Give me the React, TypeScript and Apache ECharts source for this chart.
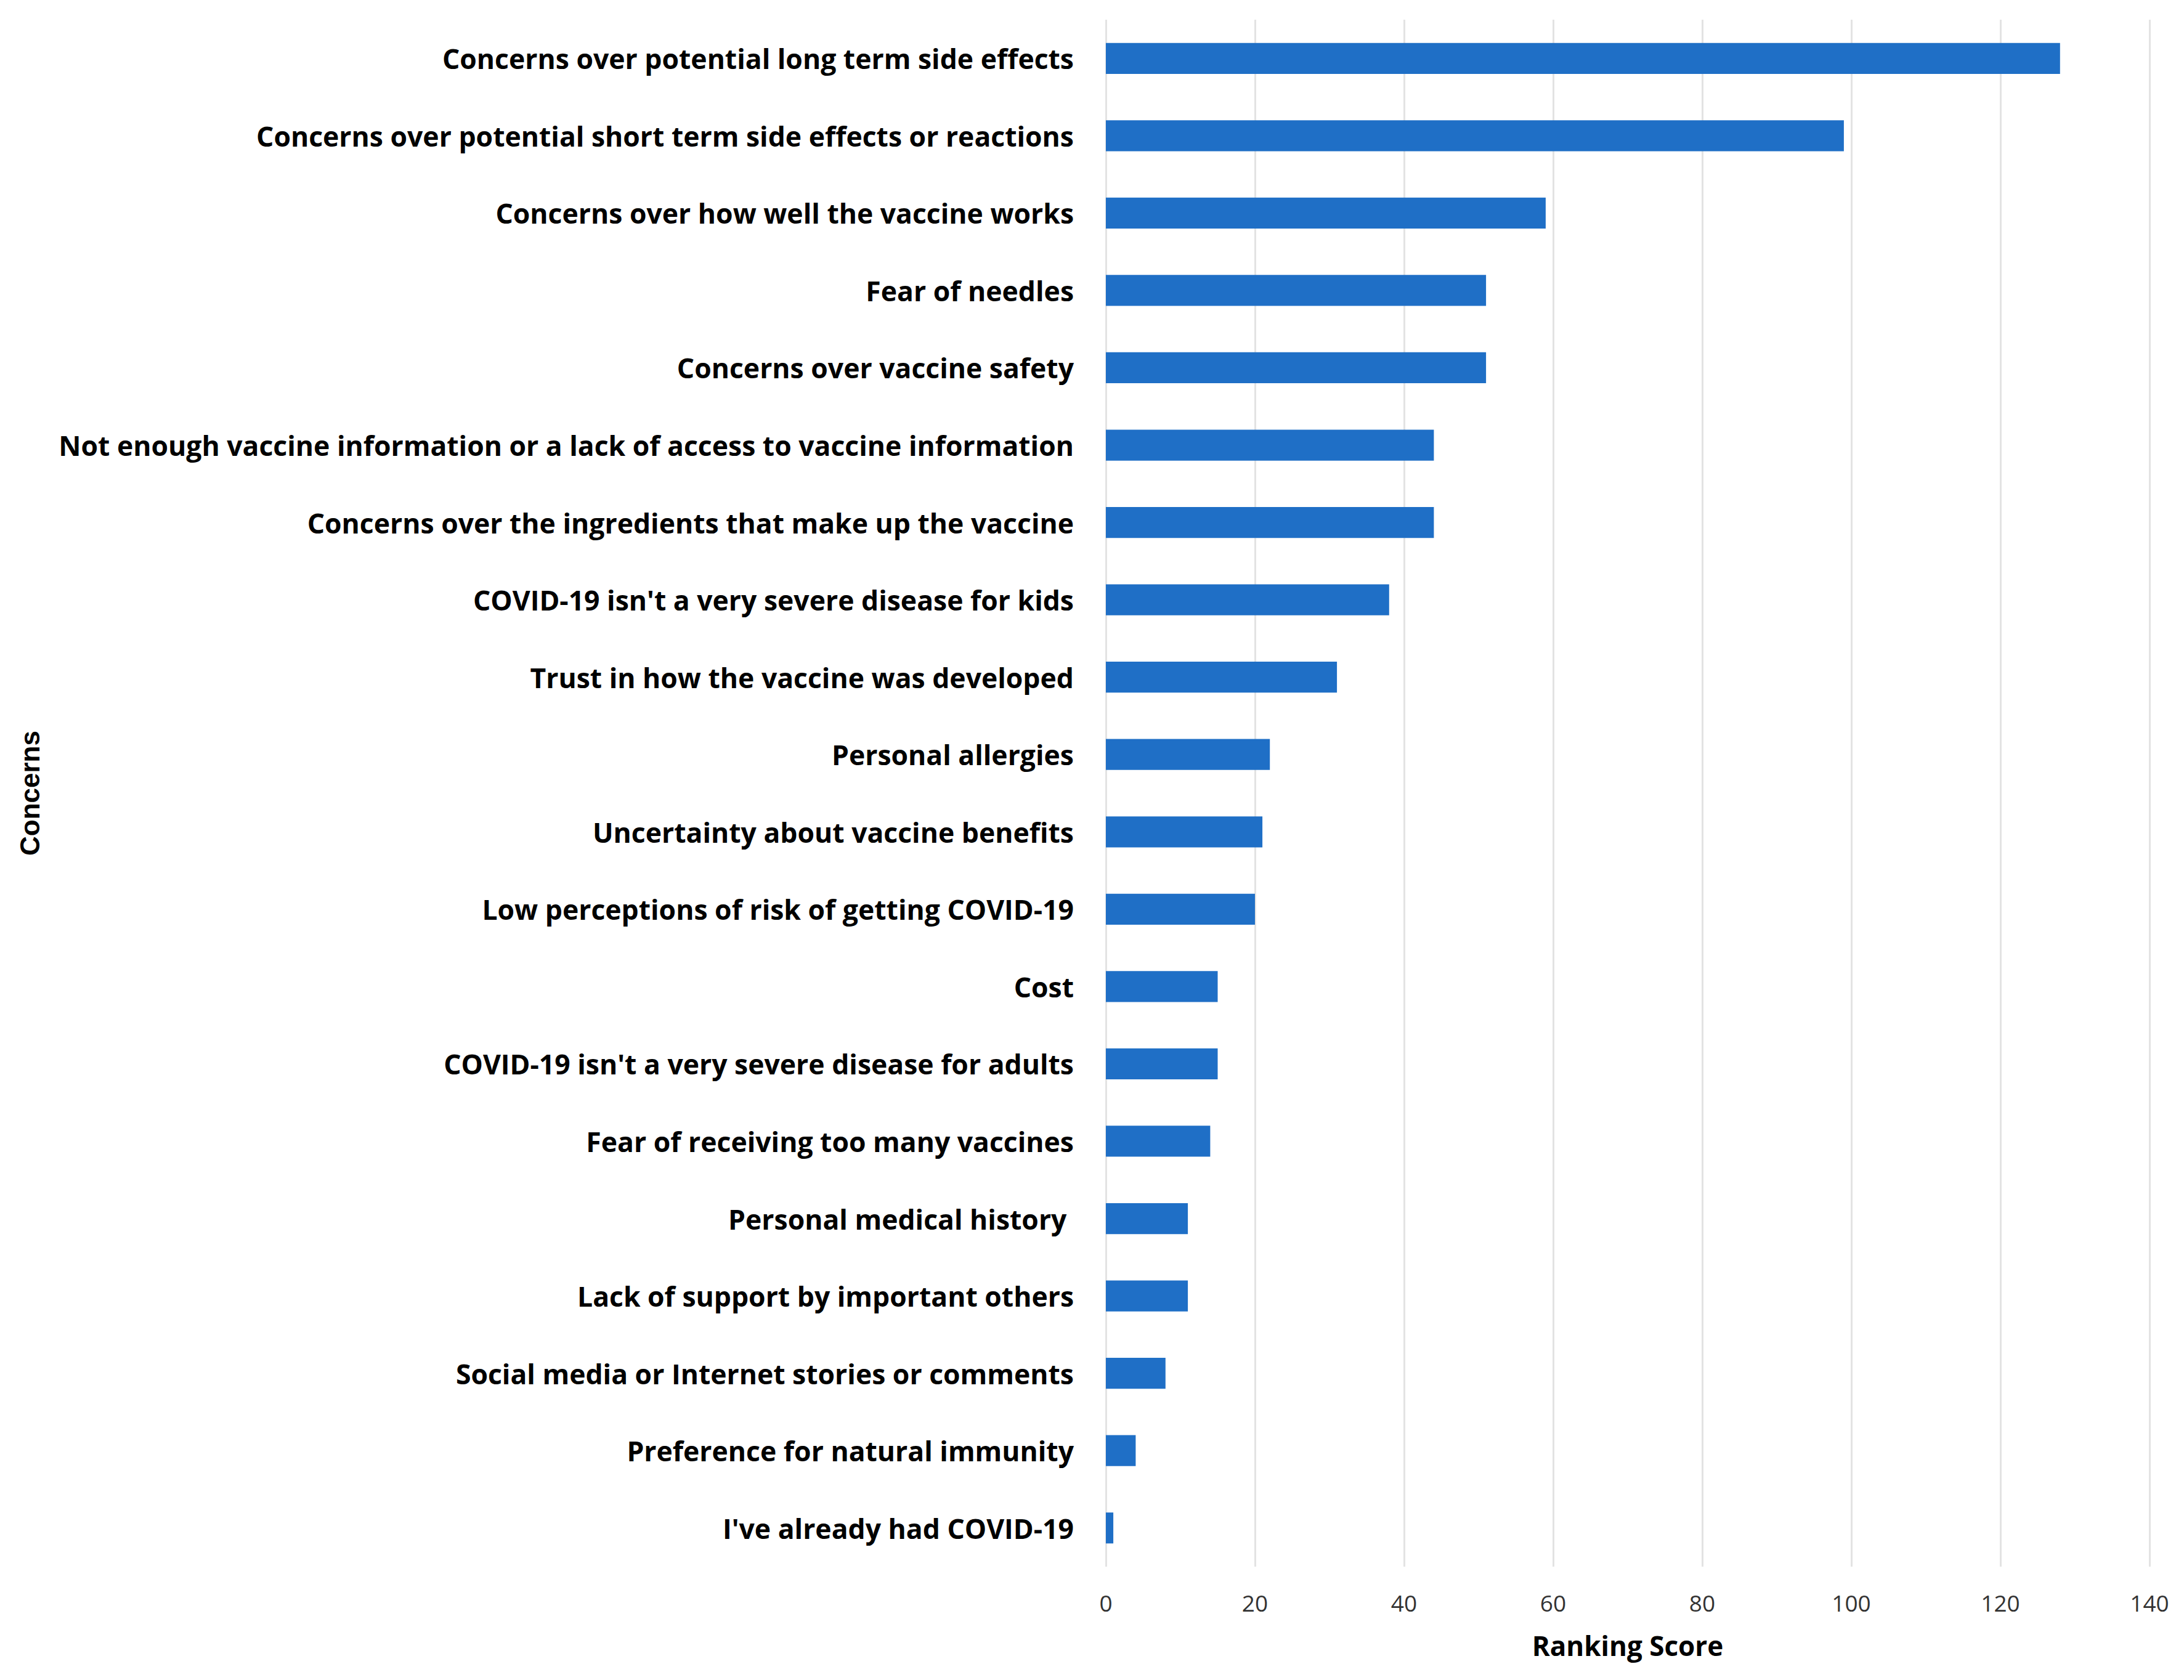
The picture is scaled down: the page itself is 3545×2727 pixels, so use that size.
import React, { useEffect, useRef } from "react";
import * as echarts from "echarts";

const categories = [
  "Concerns over potential long term side effects",
  "Concerns over potential short term side effects or reactions",
  "Concerns over how well the vaccine works",
  "Fear of needles",
  "Concerns over vaccine safety",
  "Not enough vaccine information or a lack of access to vaccine information",
  "Concerns over the ingredients that make up the vaccine",
  "COVID-19 isn't a very severe disease for kids",
  "Trust in how the vaccine was developed",
  "Personal allergies",
  "Uncertainty about vaccine benefits",
  "Low perceptions of risk of getting COVID-19",
  "Cost",
  "COVID-19 isn't a very severe disease for adults",
  "Fear of receiving too many vaccines",
  "Personal medical history ",
  "Lack of support by important others",
  "Social media or Internet stories or comments",
  "Preference for natural immunity",
  "I've already had COVID-19",
];

const scores = [128, 99, 59, 51, 51, 44, 44, 38, 31, 22, 21, 20, 15, 15, 14, 11, 11, 8, 4, 1];

const xTicks = { min: 0, max: 140, interval: 20 };

export default function App() {
  const ref = useRef<HTMLDivElement>(null);
  useEffect(() => {
    if (!ref.current) return;
    const chart = echarts.init(ref.current, undefined, { renderer: "svg" });
    chart.setOption({
      animation: false,
      backgroundColor: "#ffffff",
      grid: { left: 1795, right: 56, top: 32, bottom: 184, containLabel: false },
      xAxis: {
        type: "value",
        min: xTicks.min,
        max: xTicks.max,
        interval: xTicks.interval,
        name: "Ranking Score",
        nameLocation: "middle",
        nameGap: 106,
        nameTextStyle: { fontFamily: "Open Sans", fontWeight: "bold", fontSize: 44, color: "#000000" },
        axisLine: { show: false },
        axisTick: { show: false },
        axisLabel: { fontFamily: "Open Sans", fontSize: 37, color: "#333333", margin: 40 },
        splitLine: { show: true, lineStyle: { color: "#e3e3e3", width: 3 } },
      },
      yAxis: {
        type: "category",
        data: categories,
        inverse: true,
        name: "Concerns",
        nameLocation: "middle",
        nameGap: 1725,
        nameRotate: 90,
        nameTextStyle: { fontFamily: "Liberation Sans", fontWeight: "bold", fontSize: 44, color: "#000000" },
        axisLine: { show: false },
        axisTick: { show: false },
        axisLabel: { fontFamily: "Open Sans", fontWeight: "bold", fontSize: 44.5, color: "#000000", margin: 52 },
        splitLine: { show: false },
      },
      series: [
        {
          type: "bar",
          data: scores,
          barWidth: "40%",
          itemStyle: { color: "#1f6fc6" },
        },
      ],
    });
    return () => chart.dispose();
  }, []);
  return (
    <div
      ref={ref}
      style={{ position: "absolute", left: 0, top: 0, width: 3545, height: 2727 }}
    />
  );
}
